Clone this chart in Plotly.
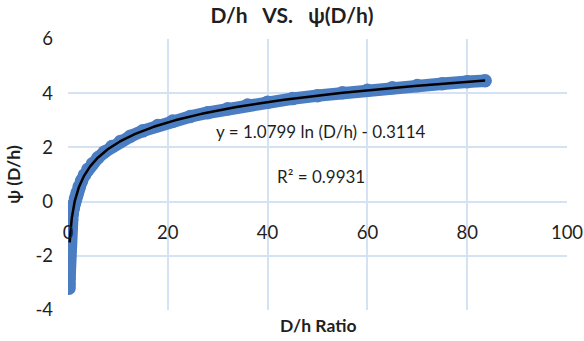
import numpy as np
import plotly.graph_objects as go

# Measured D/h ratios and the corresponding psi(D/h) values
dh_ratio = [0.20, 0.21, 0.22, 0.23, 0.24, 0.25, 0.27, 0.29, 0.32, 0.36,
            0.42, 0.50, 0.60, 0.72, 0.88, 1.05, 1.25, 1.50, 1.80, 2.20,
            2.70, 3.30, 4.00, 4.90, 6.00, 7.30, 8.80, 10.5, 12.5, 15.0,
            18.0, 21.0, 24.5, 28.0, 32.0, 36.0, 40.0, 45.0, 50.0, 55.0,
            60.0, 65.0, 70.0, 75.0, 80.0, 83.6]
psi = [-3.20, -3.05, -2.85, -2.65, -2.45, -2.25, -2.05, -1.85, -1.65, -1.45,
       -1.25, -1.05, -0.85, -0.66, -0.45, -0.26, -0.07, 0.13, 0.32, 0.54,
       0.76, 0.98, 1.19, 1.40, 1.62, 1.83, 2.03, 2.22, 2.41, 2.61,
       2.81, 2.97, 3.14, 3.28, 3.43, 3.56, 3.67, 3.80, 3.91, 4.02,
       4.11, 4.20, 4.28, 4.35, 4.42, 4.46]

# Logarithmic trendline: psi = a * ln(D/h) + b
fit_a = 1.0799
fit_b = -0.3114
fit_r2 = 0.9931
fit_x_start = 0.33
fit_x_end = 83.6

x_ticks = [0, 20, 40, 60, 80, 100]
y_ticks = [-4, -2, 0, 2, 4, 6]
y_tick_labels = ["-4", "-2", "0", "2", "4", "6"]

FONT = "Lato, 'Open Sans', sans-serif"
TEXT = "#1f1f1f"
GRID = "#d5e2f4"
BLUE = "#4a7dc1"

fit_x = np.geomspace(fit_x_start, fit_x_end, 300)
fit_y = fit_a * np.log(fit_x) + fit_b

fig = go.Figure()
fig.add_trace(go.Scatter(
    x=dh_ratio, y=psi, mode="lines+markers",
    line=dict(color=BLUE, width=12.5),
    marker=dict(color=BLUE, size=13.5, line=dict(width=0)),
    showlegend=False, hoverinfo="x+y",
))
fig.add_trace(go.Scatter(
    x=fit_x, y=fit_y, mode="lines",
    line=dict(color="black", width=2.5),
    showlegend=False, hoverinfo="skip",
))

eq_text = f"y = {fit_a:.4f} ln (D/h) - {abs(fit_b):.4f}"
r2_text = f"R² = {fit_r2:.4f}"
fig.add_annotation(x=50.7, y=2.6, text=eq_text, showarrow=False,
                   font=dict(family=FONT, size=17, color=TEXT))
fig.add_annotation(x=50.7, y=0.91, text=r2_text, showarrow=False,
                   font=dict(family=FONT, size=17, color=TEXT))
fig.add_annotation(x=0.5, xref="paper", y=-0.058, yref="paper",
                   text="<b>D/h Ratio</b>", showarrow=False, yanchor="middle",
                   font=dict(family=FONT, size=17.5, color=TEXT))

fig.update_layout(
    width=584, height=341,
    margin=dict(l=68, r=17, t=39, b=31),
    paper_bgcolor="white", plot_bgcolor="white",
    font=dict(family=FONT, color=TEXT),
    title=dict(text="<b>D/h\u00a0\u00a0 VS.\u00a0\u00a0 ψ(D/h)</b>",
               x=0.5, xref="container", xanchor="center",
               y=1 - 16 / 341, yref="container", yanchor="middle",
               font=dict(family=FONT, size=21, color=TEXT)),
    xaxis=dict(range=[0, 100], tickvals=x_ticks, showgrid=True,
               gridcolor=GRID, gridwidth=1.5, zeroline=False, showline=False,
               anchor="free", position=0.4, ticks="", automargin=False,
               ticklabelstandoff=18,
               tickfont=dict(family=FONT, size=18.5, color=TEXT)),
    yaxis=dict(range=[-4, 6], tickvals=y_ticks, ticktext=y_tick_labels,
               showgrid=True, gridcolor=GRID, gridwidth=1.5,
               zeroline=True, zerolinecolor=GRID, zerolinewidth=1.5,
               showline=False, ticks="", ticklabelstandoff=14,
               automargin=False,
               tickfont=dict(family=FONT, size=18.5, color=TEXT),
               title=dict(text="<b>ψ (D/h)</b>", standoff=10,
                          font=dict(family=FONT, size=17.5, color=TEXT))),
)

fig.write_html("out.html")
